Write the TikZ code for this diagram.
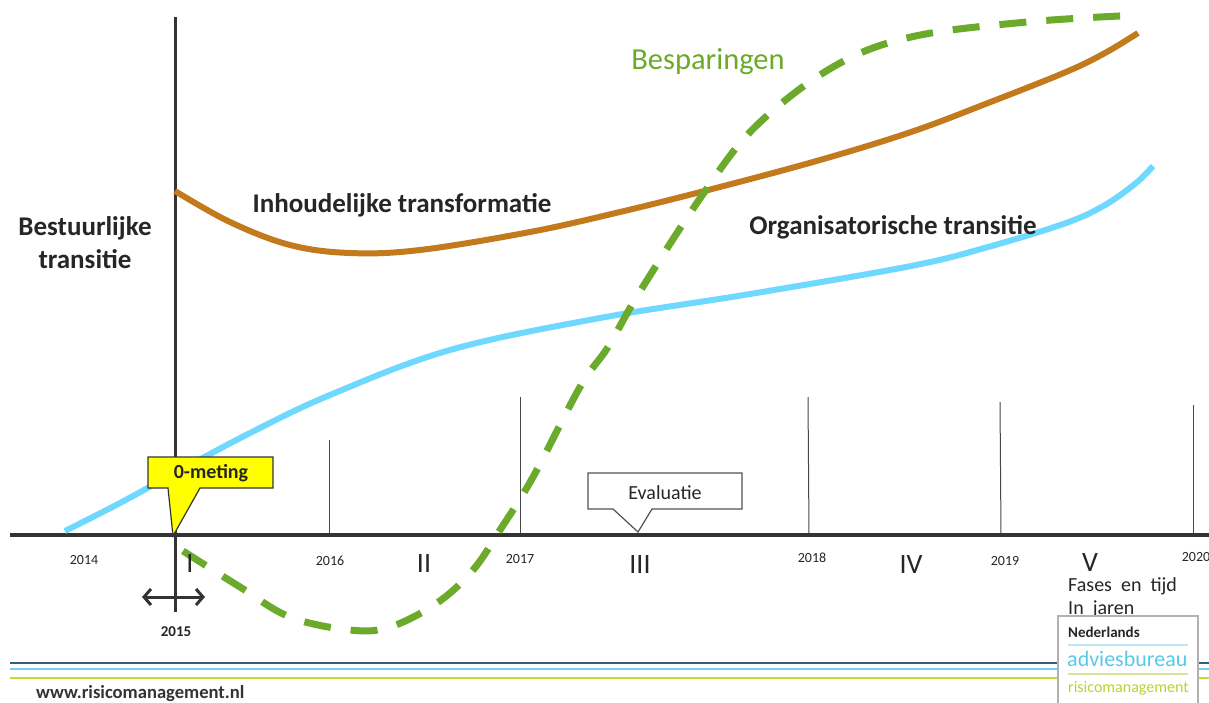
\documentclass[tikz,border=0pt]{standalone}
\usepackage{fontspec}
\setmainfont{Carlito}
\usetikzlibrary{arrows.meta}
\definecolor{axisgray}{HTML}{333333}
\definecolor{txtgray}{HTML}{262626}
\definecolor{brownline}{HTML}{C27A1C}
\definecolor{blueline}{HTML}{6FD8FF}
\definecolor{greenline}{HTML}{6BAA2A}
\definecolor{callyellow}{HTML}{FFFF00}
\definecolor{footdark}{HTML}{3B5B78}
\definecolor{footblue}{HTML}{6FD0F0}
\definecolor{footgreen}{HTML}{C5D93A}
\definecolor{logoblue}{HTML}{5BC8E8}
\definecolor{logogreen}{HTML}{B8D433}
\definecolor{logoblueline}{HTML}{BFE8F5}
\definecolor{logogreenline}{HTML}{D6E59A}
\begin{document}
\begin{tikzpicture}[x=1pt,y=-1pt,
  lbl/.style={inner sep=0pt, text=txtgray},
  boldlbl/.style={lbl, font=\fontsize{27}{33}\selectfont\bfseries},
  yearlbl/.style={lbl, font=\fontsize{14}{14}\selectfont},
  romanlbl/.style={lbl, font=\fontsize{28}{28}\selectfont},
  tickline/.style={draw=axisgray!90, line width=1pt},
  curveline/.style={line width=6pt, line cap=butt},
  footline/.style={line width=1.5pt}
]
\useasboundingbox (0,0) rectangle (1209,702);
\fill[white] (0,0) rectangle (1209,702);

% axes
\coordinate (hl) at (10,535);
\coordinate (hr) at (1209,535);
\coordinate (vt) at (175,17);
\coordinate (vb) at (175,612);
\draw[tickline] (329,440) -- (329,535);
\draw[tickline] (520,397) -- (520,535);
\draw[tickline] (808,397) -- (809,535);
\draw[tickline] (1000,402) -- (1001,535);
\draw[tickline] (1193,405) -- (1193,535);
\draw[axisgray, line width=4pt] (hl) -- (hr);
\draw[axisgray, line width=3pt] (vt) -- (vb);

% curves
\draw[curveline, blueline] plot[smooth, tension=0.6] coordinates {
 (65,531) (120,503) (175,473) (250,433) (330,395) (450,350) (600,318)
 (750,294) (911,266) (988,247) (1066,223) (1105,205) (1136,183) (1153,166)};
\draw[curveline, brownline] plot[smooth, tension=0.6] coordinates {
 (175,191) (230,222) (290,245) (350,253) (420,250) (530,232) (620,212)
 (716,188) (820,160) (911,132) (988,103) (1066,72) (1105,53) (1138,33)};
\draw[line width=7pt, greenline, dash pattern=on 27pt off 20pt] plot[smooth, tension=0.6] coordinates {
 (183,551) (240,587) (290,617) (350,630) (390,627) (437,603) (473,570)
 (500,530) (533,477) (580,387) (608,347) (639,293) (701,197) (755,127)
 (833,67) (911,37) (1027,22) (1140,15)};

% labels
\node[boldlbl, align=center] (bestuur) at (85,243) {Bestuurlijke\\transitie};
\node[boldlbl] (inhoud) at (402,205) {Inhoudelijke transformatie};
\node[boldlbl] (organ) at (893,227) {Organisatorische transitie};
\node[lbl, text=greenline, font=\fontsize{30.5}{30.5}\selectfont] (bespar) at (708,62) {Besparingen};

% years
\node[yearlbl] (y2014) at (84,560) {2014};
\node[yearlbl] (y2016) at (330,561) {2016};
\node[yearlbl] (y2017) at (520,559) {2017};
\node[yearlbl] (y2018) at (812,558) {2018};
\node[yearlbl] (y2019) at (1005,561) {2019};
\node[yearlbl] (y2020) at (1196,557) {2020};
\node[lbl, font=\fontsize{15}{15}\selectfont\bfseries] (y2015) at (176,632) {2015};

% roman numerals
\node[romanlbl] (r1) at (190,564) {I};
\node[romanlbl] (r2) at (424,564) {II};
\node[romanlbl] (r3) at (640,565) {III};
\node[romanlbl] (r4) at (911,565) {IV};
\node[romanlbl] (r5) at (1090,563) {V};

% double arrow
\coordinate (al) at (142,597);
\coordinate (ar) at (205,597);
\draw[axisgray, line width=3pt, {Straight Barb[length=7pt,width=16pt]}-{Straight Barb[length=7pt,width=16pt]}] (al) -- (ar);

% 0-meting callout
\draw[fill=callyellow, draw=axisgray, line width=1.2pt, line join=miter]
  (148,457) -- (273,457) -- (273,488) -- (200,488) -- (173,536) -- (168,488) -- (148,488) -- cycle;
\node[lbl, font=\fontsize{20}{20}\selectfont\bfseries] (meting) at (211,473) {0-meting};

% Evaluatie callout
\draw[fill=white, draw=axisgray!85, line width=1.2pt]
  (588,473) -- (742,473) -- (742,509) -- (652,509) -- (638,532) -- (613,509) -- (588,509) -- cycle;
\node[lbl, font=\fontsize{20}{20}\selectfont] (eval) at (665,493) {Evaluatie};

% fases
\node[lbl, anchor=west, font=\fontsize{20}{20}\selectfont] (fases) at (1068,586) {Fases\ \ en\ \ tijd};
\node[lbl, anchor=west, font=\fontsize{20}{20}\selectfont] (jaren) at (1068,609) {In\ \ jaren};

% footer lines
\coordinate (f1l) at (10,663); \coordinate (f1r) at (1209,663);
\coordinate (f2l) at (10,669); \coordinate (f2r) at (1209,669);
\coordinate (f3l) at (10,678); \coordinate (f3r) at (1209,678);
\draw[footline, footdark] (f1l) -- (f1r);
\draw[footline, footblue] (f2l) -- (f2r);
\draw[footline, footgreen] (f3l) -- (f3r);
\node[lbl, anchor=west, text=axisgray, font=\fontsize{18.6}{18.6}\selectfont\bfseries] (www) at (36,694) {www.risicomanagement.nl};

% logo
\draw[fill=white, draw=gray!60, line width=1.5pt] (1058,616) rectangle (1198,712);
\node[lbl, anchor=west, font=\fontsize{15}{15}\selectfont\bfseries] (ned) at (1068,632) {Nederlands};
\draw[logoblueline, line width=1.2pt] (1068,645) -- (1188,645);
\node[lbl, anchor=west, text=logoblue, font=\fontsize{22}{22}\selectfont] (advies) at (1067,659) {adviesbureau};
\draw[logogreenline, line width=1.2pt] (1068,674) -- (1188,674);
\node[lbl, anchor=west, text=logogreen, font=\fontsize{16}{16}\selectfont] (risico) at (1068,688) {risicomanagement};
\end{tikzpicture}
\end{document}
